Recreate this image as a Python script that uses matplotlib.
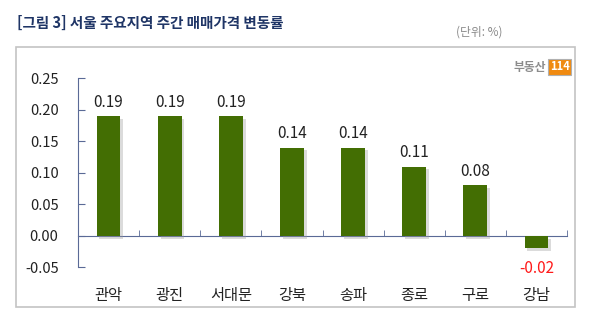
import matplotlib
matplotlib.use("Agg")
import matplotlib.pyplot as plt
import matplotlib.patheffects as pe
from matplotlib.patches import Rectangle
import numpy as np

plt.rcParams["font.family"] = ["Noto Sans CJK KR", "DejaVu Sans"]

title = "[그림 3] 서울 주요지역 주간 매매가격 변동률"
unit_note = "(단위: %)"
regions = ["관악", "광진", "서대문", "강북", "송파", "종로", "구로", "강남"]
changes = [0.19, 0.19, 0.19, 0.14, 0.14, 0.11, 0.08, -0.02]
y_ticks = [-0.05, 0.00, 0.05, 0.10, 0.15, 0.20, 0.25]

bar_color = "#436e03"
axis_color = "#5a6a96"
text_color = "#222222"

fig = plt.figure(figsize=(6, 3.35), dpi=100)

# frame around the chart area
fig.patches.append(Rectangle((0.027, 0.084), 0.932, 0.776, transform=fig.transFigure,
                             fill=False, edgecolor="#c4c4c4", linewidth=1.2))

fig.text(0.028, 0.933, title, fontsize=10.5, fontweight="bold", color="#1f3566",
         ha="left", va="center")
fig.text(0.837, 0.905, unit_note, fontsize=8.5, color="#8a8a8a", ha="right", va="center")

# logo
fig.text(0.91, 0.80, "부동산", fontsize=8.5, color="#8c8c8c", fontweight="bold",
         ha="right", va="center")
fig.text(0.933, 0.80, "114", fontsize=8, color="white", fontweight="bold",
         ha="center", va="center",
         bbox=dict(boxstyle="square,pad=0.15", fc="#f08a10", ec="#b0b0b0", lw=0.8))

ax = fig.add_axes([0.13, 0.202, 0.815, 0.564])
x = np.arange(len(regions))
bars = ax.bar(x, changes, width=0.39, color=bar_color, zorder=3)
for b in bars:
    b.set_path_effects([pe.SimplePatchShadow(offset=(2, -2), shadow_rgbFace="#9a9a9a",
                                             alpha=0.35), pe.Normal()])

for xi, v in zip(x, changes):
    if v >= 0:
        ax.annotate(f"{v:.2f}", (xi, v), xytext=(0, 4), textcoords="offset points",
                    ha="center", va="bottom", fontsize=11, color=text_color)
    else:
        ax.annotate(f"{v:.2f}", (xi, v), xytext=(0, -8), textcoords="offset points",
                    ha="center", va="top", fontsize=11, color="#ff1a1a")

for xi, name in zip(x, regions):
    ax.text(xi, -0.147, name, transform=ax.get_xaxis_transform(), ha="center",
            va="center", fontsize=11, color=text_color)

ax.set_xlim(-0.5, len(regions) - 0.5)
ax.set_ylim(-0.05, 0.25)
ax.set_yticks(y_ticks)
ax.set_yticklabels([f"{t:.2f}" for t in y_ticks], fontsize=10.5, color=text_color)
ax.tick_params(axis="y", direction="in", length=5, color=axis_color, pad=14)

ax.set_xticks([])
ax.set_xticks(np.arange(len(regions)) + 0.5, minor=True)
ax.tick_params(axis="x", which="minor", direction="in", length=4, color=axis_color)
ax.tick_params(axis="x", which="major", length=0, labelbottom=False)

ax.spines["bottom"].set_position(("data", 0))
ax.spines["bottom"].set_color(axis_color)
ax.spines["left"].set_color(axis_color)
for s in ["top", "right"]:
    ax.spines[s].set_visible(False)
ax.patch.set_alpha(0)

fig.savefig("out.png", dpi=100)
